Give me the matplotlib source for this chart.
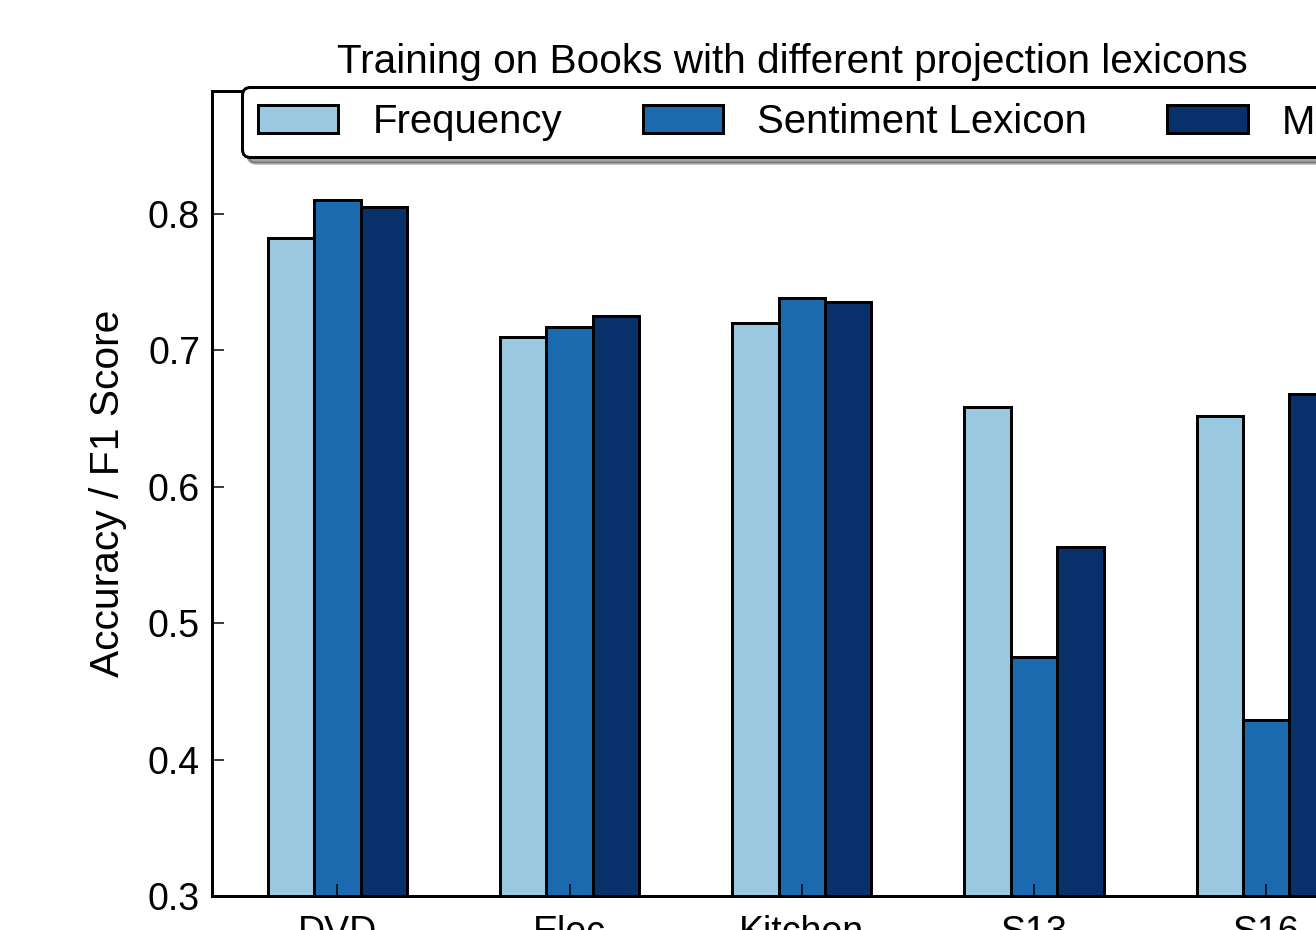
import matplotlib.pyplot as plt
import numpy as np

plt.switch_backend("agg")

categories = ["DVD", "Elec", "Kitchen", "S13", "S16"]
series_names = ["Frequency", "Sentiment Lexicon", "MPQA"]
frequency = [0.782, 0.710, 0.720, 0.658, 0.652]
sentiment_lexicon = [0.810, 0.717, 0.738, 0.475, 0.429]
mpqa = [0.805, 0.725, 0.735, 0.556, 0.668]
colors = ["#9ac8e0", "#1b69af", "#08306b"]

plt.rcParams["font.family"] = ["Liberation Sans", "DejaVu Sans"]

fig = plt.figure(figsize=(1316 / 216, 930 / 216), dpi=216)
ax = fig.add_axes([0.1611, 0.0366, 0.8822, 0.8656])

width = 0.2
x = np.arange(len(categories))
for k, (vals, name) in enumerate(zip([frequency, sentiment_lexicon, mpqa], series_names)):
    ax.bar(x + k * width, vals, width, align="edge", color=colors[k],
           edgecolor="black", linewidth=1.0, label=name)

ax.set_xlim(-0.24, 4.76)
ax.set_ylim(0.3, 0.89)
ax.set_yticks([0.3, 0.4, 0.5, 0.6, 0.7, 0.8])
ax.set_xticks(x + 1.5 * width)
ax.set_xticklabels(categories)
ax.tick_params(direction="in", length=4, width=0.5, labelsize=12.5,
               top=True, right=True)
ax.tick_params(axis="y", pad=4)
ax.tick_params(axis="x", pad=6.5)
for s in ax.spines.values():
    s.set_linewidth(1.0)

ax.set_ylabel("Accuracy / F1 Score", fontsize=13.6, labelpad=7)
ax.set_title("Training on Books with different projection lexicons", fontsize=13.5, pad=6)

leg = ax.legend(loc="upper left", bbox_to_anchor=(0.0258, 1.005), ncol=3,
                fontsize=13.4, fancybox=True, shadow=True, borderaxespad=0,
                framealpha=1, edgecolor="black", handlelength=2.0,
                handletextpad=0.85, columnspacing=2.0, borderpad=0.4)
leg.get_frame().set_linewidth(1.0)

fig.savefig("out.png", dpi=216)
plt.close(fig)
